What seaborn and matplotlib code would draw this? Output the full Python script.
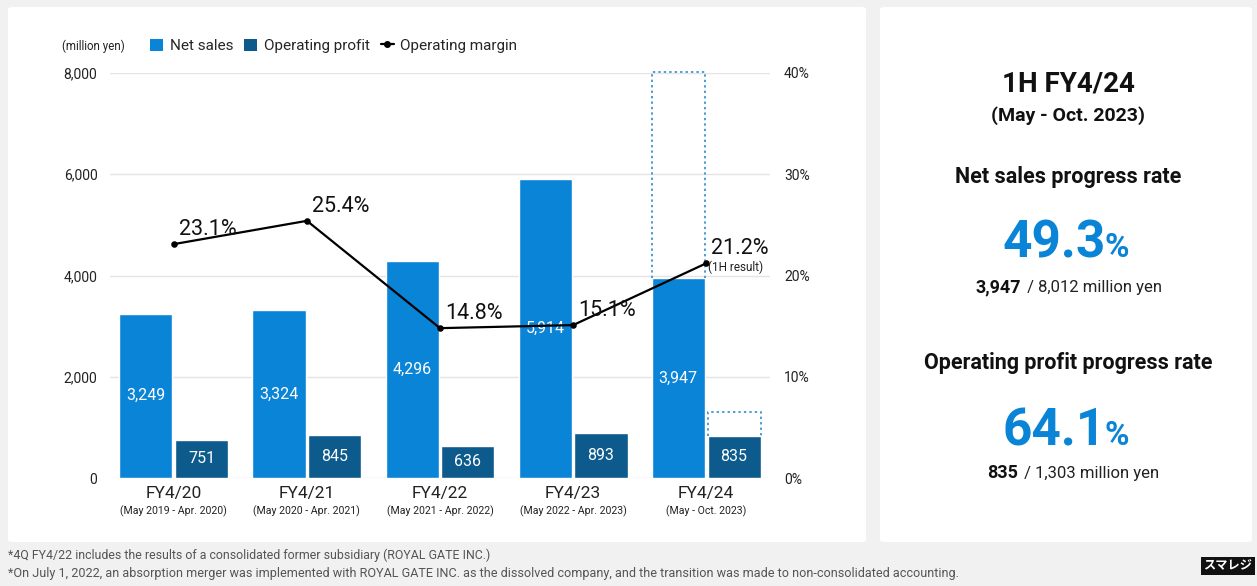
import numpy as np
import pandas as pd
import matplotlib
matplotlib.use("Agg")
import matplotlib.pyplot as plt
import seaborn as sns
from matplotlib.patches import FancyBboxPatch, Patch
from matplotlib.lines import Line2D

# ---- data -------------------------------------------------------------
fiscal_years = ["FY4/20", "FY4/21", "FY4/22", "FY4/23", "FY4/24"]
periods = ["(May 2019 - Apr. 2020)", "(May 2020 - Apr. 2021)",
           "(May 2021 - Apr. 2022)", "(May 2022 - Apr. 2023)",
           "(May - Oct. 2023)"]
net_sales = [3249, 3324, 4296, 5914, 3947]
operating_profit = [751, 845, 636, 893, 835]
operating_margin = [23.1, 25.4, 14.8, 15.1, 21.2]
sales_target = 8012
profit_target = 1303

BLUE = "#0a84d6"
NAVY = "#0d5a8c"
DOT_BLUE = "#4c9bd6"
BG = "#f1f1f1"

sns.set_theme(style="white")
plt.rcParams["font.family"] = ["Roboto", "Noto Sans CJK JP", "DejaVu Sans"]

W, H = 1257, 586
fig = plt.figure(figsize=(W / 100, H / 100), dpi=100, facecolor=BG)


def fx(px):
    return px / W


def fy(py):
    return 1 - py / H


# cards
for x0, x1 in [(8, 866), (880, 1252)]:
    fig.patches.append(FancyBboxPatch((fx(x0), fy(542)), fx(x1 - x0), (542 - 7) / H,
                                      boxstyle="round,pad=0,rounding_size=0.004",
                                      transform=fig.transFigure, facecolor="white",
                                      edgecolor="none", zorder=-10))

# ---- chart ------------------------------------------------------------
ax = fig.add_axes([fx(110), fy(478), fx(770 - 110), (478 - 73) / H])
ax.set_facecolor("none")

df = pd.DataFrame({
    "fy": fiscal_years * 2,
    "value": net_sales + operating_profit,
    "series": ["Net sales"] * 5 + ["Operating profit"] * 5,
})
sns.barplot(data=df, x="fy", y="value", hue="series", palette=[BLUE, NAVY],
            width=0.84, gap=0.05, saturation=1, legend=False, ax=ax)

ax.set_ylim(0, 8000)
ax.set_xlim(-0.48, 4.48)
ax.set_yticks(np.arange(0, 8001, 2000))
ax.set_yticklabels([f"{v:,}" for v in range(0, 8001, 2000)], fontsize=10, color="#222")
ax.tick_params(axis="y", length=0, pad=9)
ax.set_xticks([])
ax.set_xlabel("")
ax.set_ylabel("")
for s in ax.spines.values():
    s.set_visible(False)
ax.yaxis.grid(True, color="#e4e4e4", linewidth=1, zorder=0)
ax.set_axisbelow(True)

# value labels inside bars
for cont, vals in zip(ax.containers, [net_sales, operating_profit]):
    for bar, v in zip(cont, vals):
        ax.text(bar.get_x() + bar.get_width() / 2, v / 2, f"{v:,}", ha="center",
                va="center", color="white", fontsize=11.5, zorder=5)

# full-year targets of the current fiscal year (dotted outline above the bar)
for cont, actual, target in zip(ax.containers,
                                [net_sales[-1], operating_profit[-1]],
                                [sales_target, profit_target]):
    bar = cont[len(fiscal_years) - 1]
    x0, x1 = bar.get_x(), bar.get_x() + bar.get_width()
    ax.plot([x0, x0, x1, x1], [actual, target, target, actual], color=DOT_BLUE,
            linestyle=(0, (1.2, 1.6)), linewidth=1.4, zorder=2, clip_on=False)

# category labels
for i, (name, per) in enumerate(zip(fiscal_years, periods)):
    ax.annotate(name, xy=(i, 0), xycoords=("data", "axes fraction"), xytext=(0, -11),
                textcoords="offset points", ha="center", va="center", fontsize=12.5,
                color="#222")
    ax.annotate(per, xy=(i, 0), xycoords=("data", "axes fraction"), xytext=(0, -24),
                textcoords="offset points", ha="center", va="center", fontsize=7.6,
                color="#222")

# operating margin on secondary axis
ax2 = ax.twinx()
sns.pointplot(x=fiscal_years, y=operating_margin, color="black", markers="o",
              markersize=3.5, linewidth=1.6, ax=ax2, zorder=6)
ax2.set_xlim(-0.48, 4.48)
ax2.set_ylim(0, 40)
ax2.set_yticks(np.arange(0, 41, 10))
ax2.set_yticklabels([f"{v}%" for v in range(0, 41, 10)], fontsize=10, color="#222")
ax2.tick_params(axis="y", length=0, pad=10)
ax2.set_xticks([])
ax2.set_ylabel("")
for s in ax2.spines.values():
    s.set_visible(False)

for i, m in enumerate(operating_margin):
    ax2.annotate(f"{m}%", xy=(i, m), xytext=(3.5, 10.5), textcoords="offset points",
                 ha="left", va="center", fontsize=15.5, color="#111", zorder=7)
ax2.annotate("(1H result)", xy=(len(operating_margin) - 1, operating_margin[-1]),
             xytext=(1.5, -3), textcoords="offset points", ha="left", va="center",
             fontsize=8.5, color="#222", zorder=7)

# legend
handles = [Patch(facecolor=BLUE, edgecolor="none"),
           Patch(facecolor=NAVY, edgecolor="none"),
           Line2D([0], [0], color="black", marker="o", markersize=4, linewidth=1.6)]
fig.legend(handles, ["Net sales", "Operating profit", "Operating margin"],
           loc="center left", bbox_to_anchor=(fx(150), fy(46)), ncol=3, frameon=False,
           fontsize=11, handlelength=0.85, handleheight=0.85, handletextpad=0.45,
           columnspacing=0.7, borderpad=0, borderaxespad=0)
fig.text(fx(62), fy(46), "(million yen)", fontsize=8.3, color="#222", va="center")

# ---- summary panel ----------------------------------------------------
cx = fx(1068)
fig.text(cx, fy(84), "1H FY4/24", ha="center", va="center", fontsize=20,
         fontweight="bold", color="#111")
fig.text(cx, fy(116), "(May - Oct. 2023)", ha="center", va="center", fontsize=14,
         fontweight="bold", color="#111")

summaries = [
    ("Net sales progress rate", net_sales[-1], sales_target, 177, 257, 292, 1021),
    ("Operating profit progress rate", operating_profit[-1], profit_target, 363, 445, 478, 1018),
]
for title, actual, target, y_title, y_rate, y_detail, x_split in summaries:
    rate = actual / target * 100
    fig.text(cx, fy(y_title), title, ha="center", va="center", fontsize=15.5,
             fontweight="bold", color="#111")
    fig.text(fx(1106), fy(y_rate), f"{rate:.1f}", ha="right", va="baseline",
             fontsize=37, fontweight="bold", color=BLUE)
    fig.text(fx(1105), fy(y_rate), "%", ha="left", va="baseline", fontsize=24,
             fontweight="bold", color=BLUE)
    fig.text(fx(x_split), fy(y_detail), f"{actual:,}", ha="right", va="baseline",
             fontsize=13, fontweight="bold", color="#111")
    fig.text(fx(x_split + 2), fy(y_detail), f" / {target:,} million yen", ha="left",
             va="baseline", fontsize=12, color="#222")

# ---- footnotes --------------------------------------------------------
fig.text(fx(8), fy(555), "*4Q FY4/22 includes the results of a consolidated former "
         "subsidiary (ROYAL GATE INC.)", fontsize=8.9, color="#555", va="center")
fig.text(fx(8), fy(573), "*On July 1, 2022, an absorption merger was implemented with "
         "ROYAL GATE INC. as the dissolved company, and the transition was made to "
         "non-consolidated accounting.", fontsize=9.1, color="#555", va="center")
fig.text(fx(1228), fy(566), "スマレジ", ha="center", va="center", fontsize=8.8,
         fontweight="bold", color="white", family=["Noto Sans CJK JP", "DejaVu Sans"],
         bbox=dict(boxstyle="square,pad=0.22", facecolor="#111", edgecolor="none"))

fig.savefig("out.png", dpi=100, facecolor=BG)
